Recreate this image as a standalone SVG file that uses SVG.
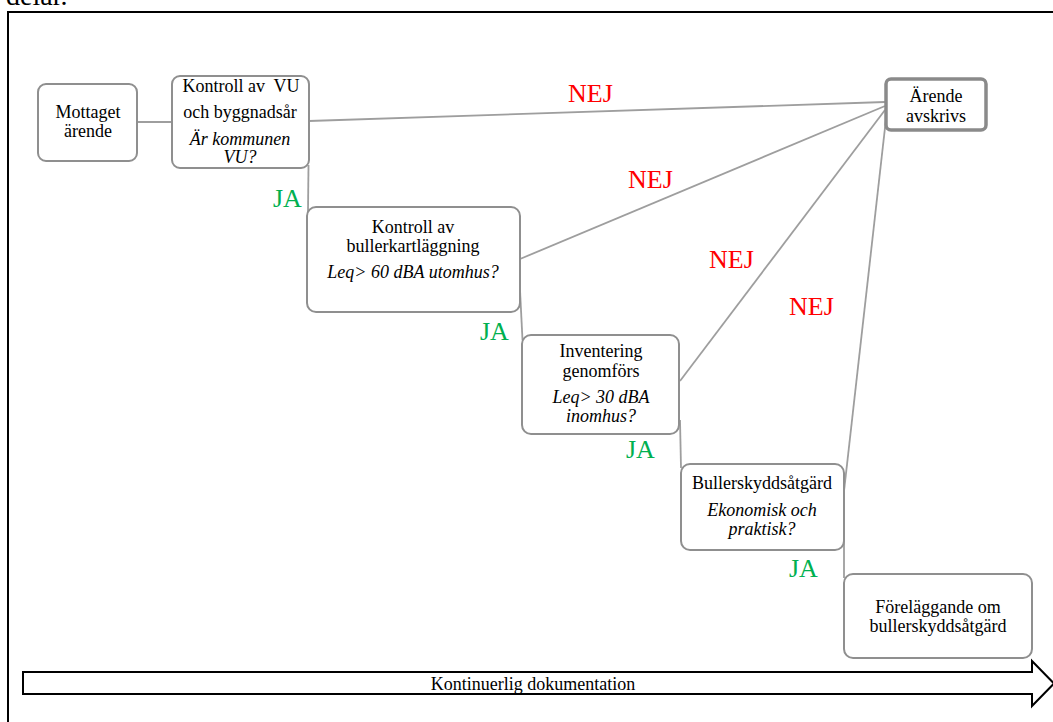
<svg xmlns="http://www.w3.org/2000/svg" width="1053" height="722" viewBox="0 0 1053 722">
<style>
  text { font-family: "Liberation Serif", "Times New Roman", serif; }
  .t { font-size: 18px; fill: #000; text-anchor: middle; }
  .i { font-style: italic; }
  .box { fill: #fff; stroke: #8f8f8f; stroke-width: 2; }
  .conn line { stroke: #9e9e9e; stroke-width: 1.8; fill: none; }
  .nej { font-size: 26px; fill: #ff0000; }
  .ja { font-size: 26px; fill: #00b050; }
</style>
<rect width="1053" height="722" fill="#fff"/>
<text x="6" y="5" style="font-size:28px" fill="#000">delar.</text>
<rect x="8" y="12" width="1070" height="730" fill="none" stroke="#000" stroke-width="2"/>

<g id="connectors" class="conn">
  <line x1="137" y1="122" x2="172" y2="122"/>
  <line x1="309" y1="121" x2="885" y2="102"/>
  <line x1="520" y1="259" x2="885" y2="106"/>
  <line x1="680" y1="381" x2="885" y2="110"/>
  <line x1="887" y1="110" x2="843" y2="500"/>
  <line x1="308.5" y1="165" x2="308" y2="212"/>
  <line x1="520" y1="290" x2="522.5" y2="340"/>
  <line x1="680" y1="420" x2="681" y2="468"/>
  <line x1="844" y1="540" x2="844" y2="578"/>
</g>

<g id="labels">
  <text class="nej" x="568" y="102">NEJ</text>
  <text class="nej" x="628" y="188">NEJ</text>
  <text class="nej" x="709" y="268">NEJ</text>
  <text class="nej" x="789" y="315">NEJ</text>
  <text class="ja" x="273" y="207">JA</text>
  <text class="ja" x="480" y="340">JA</text>
  <text class="ja" x="626" y="458">JA</text>
  <text class="ja" x="789" y="577">JA</text>
</g>

<g id="node-mottaget">
  <rect class="box" x="38" y="84" width="99" height="77" rx="8"/>
  <text class="t" x="88" y="118">Mottaget</text>
  <text class="t" x="88" y="137">ärende</text>
</g>

<g id="node-kontroll-vu">
  <rect class="box" x="172" y="76" width="137" height="92" rx="8"/>
  <text class="t" x="241" y="92" xml:space="preserve">Kontroll av  VU</text>
  <text class="t" x="240" y="118">och byggnadsår</text>
  <text class="t i" x="240" y="145">Är kommunen</text>
  <text class="t i" x="240" y="163">VU?</text>
</g>

<g id="node-arende-avskrivs">
  <rect x="886" y="79" width="100" height="51" rx="5" fill="#fff" stroke="#8a8a8a" stroke-width="3.5"/>
  <text class="t" x="936" y="102">Ärende</text>
  <text class="t" x="936" y="122">avskrivs</text>
</g>

<g id="node-bullerkartlaggning">
  <rect class="box" x="307" y="207" width="213" height="105" rx="9"/>
  <text class="t" x="413" y="233">Kontroll av</text>
  <text class="t" x="413" y="252">bullerkartläggning</text>
  <text class="t i" x="413" y="278">Leq&gt; 60 dBA utomhus?</text>
</g>

<g id="node-inventering">
  <rect class="box" x="522" y="335" width="157" height="99" rx="9"/>
  <text class="t" x="601" y="357">Inventering</text>
  <text class="t" x="601" y="377">genomförs</text>
  <text class="t i" x="601" y="403">Leq&gt; 30 dBA</text>
  <text class="t i" x="601" y="422">inomhus?</text>
</g>

<g id="node-bullerskyddsatgard">
  <rect class="box" x="681" y="464" width="163" height="86" rx="9"/>
  <text class="t" x="762" y="489">Bullerskyddsåtgärd</text>
  <text class="t i" x="762" y="516">Ekonomisk och</text>
  <text class="t i" x="762" y="535">praktisk?</text>
</g>

<g id="node-forelaggande">
  <rect class="box" x="844" y="574" width="188" height="84" rx="9"/>
  <text class="t" x="938" y="613">Föreläggande om</text>
  <text class="t" x="938" y="632">bullerskyddsåtgärd</text>
</g>

<g id="arrow-dokumentation">
  <polygon points="23,672 1032,672 1032,661 1054,683.5 1032,706 1032,694 23,694" fill="#fff" stroke="#000" stroke-width="2"/>
  <text class="t" x="533" y="690">Kontinuerlig dokumentation</text>
</g>
</svg>
